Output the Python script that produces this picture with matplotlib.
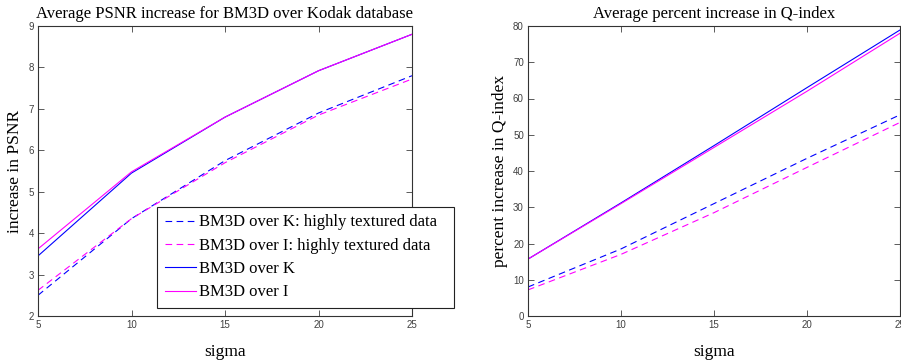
import matplotlib
matplotlib.use('Agg')
import matplotlib.pyplot as plt

# valores
sigma = [5, 10, 15, 20, 25]

psnr_k_tex = [2.50, 4.35, 5.75, 6.90, 7.80]
psnr_i_tex = [2.62, 4.35, 5.70, 6.85, 7.72]
psnr_k = [3.45, 5.45, 6.80, 7.92, 8.80]
psnr_i = [3.62, 5.48, 6.80, 7.92, 8.80]

q_k_tex = [8.0, 18.5, 31.0, 43.5, 55.5]
q_i_tex = [7.2, 17.0, 28.5, 41.0, 53.4]
q_k = [15.7, 31.2, 47.0, 63.0, 78.9]
q_i = [15.7, 31.0, 46.5, 62.0, 78.0]

labels = ['BM3D over K: highly textured data',
          'BM3D over I: highly textured data',
          'BM3D over K',
          'BM3D over I']

blue = '#0000ff'
magenta = '#ff00ff'
serif = 'Liberation Serif'
sans = 'Liberation Sans'
tick_col = '#404040'

fig = plt.figure(figsize=(9.01, 3.6), dpi=100)
ax1 = fig.add_axes([38 / 901, 1 - 316 / 360, 374 / 901, 290 / 360])
ax2 = fig.add_axes([528 / 901, 1 - 316 / 360, 372 / 901, 290 / 360])


def style(ax, yticks):
    ax.set_xlim(5, 25)
    ax.set_xticks(sigma)
    ax.set_yticks(yticks)
    ax.set_ylim(yticks[0], yticks[-1])
    ax.tick_params(direction='in', length=4, width=0.6, top=True, right=True,
                   colors=tick_col, labelsize=7, pad=3)
    for lab in ax.get_xticklabels() + ax.get_yticklabels():
        lab.set_family(sans)
    for sp in ax.spines.values():
        sp.set_color('#333333')
        sp.set_linewidth(0.8)


dash = (0, (6, 4))

# 1. PSNR
ax1.plot(sigma, psnr_k_tex, color=blue, ls=dash, lw=0.8, label=labels[0])
ax1.plot(sigma, psnr_i_tex, color=magenta, ls=dash, lw=0.8, label=labels[1])
ax1.plot(sigma, psnr_k, color=blue, lw=0.8, label=labels[2])
ax1.plot(sigma, psnr_i, color=magenta, lw=0.8, label=labels[3])
style(ax1, list(range(2, 10)))
ax1.set_title('Average PSNR increase for BM3D over Kodak database',
              family=serif, fontsize=12, pad=6)
ax1.set_xlabel('sigma', family=serif, fontsize=12.5, labelpad=10)
ax1.set_ylabel('increase in PSNR', family=serif, fontsize=12.5, labelpad=3.5)
leg = ax1.legend(loc='lower left',
                 bbox_to_anchor=((157 - 38) / 374, 8 / 290, (454 - 157) / 374, 0.1),
                 mode='expand',
                 borderaxespad=0, fancybox=False, framealpha=1,
                 edgecolor='#222222', handlelength=1.9, handletextpad=0.15,
                 labelspacing=0.44, borderpad=0.45,
                 prop={'family': serif, 'size': 12})
leg.get_frame().set_linewidth(0.8)
leg.set_zorder(5)

# 2. Q-index
ax2.plot(sigma, q_k_tex, color=blue, ls=dash, lw=0.8)
ax2.plot(sigma, q_i_tex, color=magenta, ls=dash, lw=0.8)
ax2.plot(sigma, q_k, color=blue, lw=0.8)
ax2.plot(sigma, q_i, color=magenta, lw=0.8)
style(ax2, list(range(0, 90, 10)))
ax2.set_title('Average percent increase in Q-index',
              family=serif, fontsize=12, pad=6)
ax2.set_xlabel('sigma', family=serif, fontsize=12.5, labelpad=10)
ax2.set_ylabel('percent increase in Q-index', family=serif, fontsize=12.5,
               labelpad=3.5)

fig.savefig('out.png', dpi=100)
